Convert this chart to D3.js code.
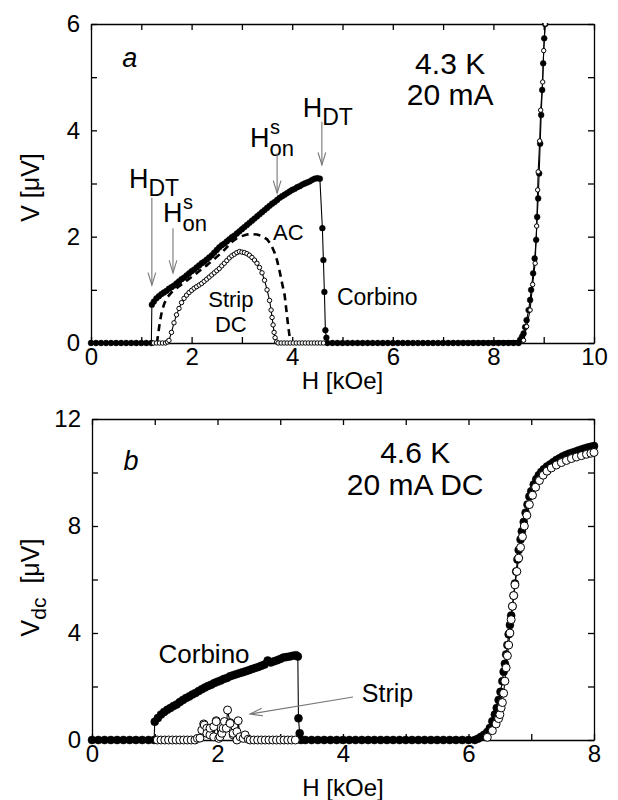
<!DOCTYPE html>
<html>
<head>
<meta charset="utf-8">
<script src="https://cdn.jsdelivr.net/npm/d3@7"></script>
<style>
body { margin: 0; background: #fff; }
text { font-family: "Liberation Sans", Arial, Helvetica, sans-serif; fill: #000; }
</style>
</head>
<body>
<svg id="chart" width="618" height="800"></svg>
<script>
// panel a : 4.3 K, 20 mA  -- [H kOe, V uV]
var aCorbino = [
  [0,0],[0.1,0],[0.2,0],[0.3,0],[0.4,0],[0.5,0],[0.6,0],[0.7,0],[0.8,0],[0.9,0],[1.0,0],[1.1,0],[1.2,0],
  [1.21,0.72],[1.25,0.78],[1.3,0.84],[1.35,0.88],[1.4,0.92],[1.45,0.95],[1.5,0.98],[1.55,1.02],[1.6,1.05],
  [1.65,1.08],[1.7,1.12],[1.75,1.16],[1.8,1.2],[1.85,1.23],[1.9,1.27],[1.95,1.31],[2.0,1.35],[2.05,1.38],
  [2.1,1.42],[2.15,1.46],[2.2,1.5],[2.25,1.53],[2.3,1.57],[2.35,1.61],[2.4,1.65],[2.45,1.7],[2.5,1.75],
  [2.55,1.8],[2.6,1.84],[2.65,1.87],[2.7,1.91],[2.75,1.95],[2.8,1.99],[2.85,2.02],[2.9,2.06],[2.95,2.1],
  [3.0,2.14],[3.05,2.18],[3.1,2.22],[3.15,2.26],[3.2,2.3],[3.25,2.34],[3.3,2.38],[3.35,2.42],[3.4,2.46],
  [3.45,2.5],[3.5,2.54],[3.55,2.58],[3.6,2.62],[3.65,2.65],[3.7,2.69],[3.75,2.73],[3.8,2.76],[3.85,2.79],
  [3.9,2.82],[3.95,2.85],[4.0,2.88],[4.05,2.9],[4.1,2.93],[4.15,2.95],[4.2,2.98],[4.25,3.0],[4.3,3.02],
  [4.35,3.04],[4.4,3.07],[4.45,3.09],[4.5,3.1],[4.55,3.09],
  [4.6,2.16],[4.62,1.56],[4.64,0.96],[4.66,0.24],[4.68,0.1],
  [4.7,0],[4.8,0],[4.9,0],[5.0,0],[5.1,0],[5.2,0],[5.3,0],[5.4,0],[5.5,0],[5.6,0],[5.7,0],[5.8,0],[5.9,0],
  [6.0,0],[6.1,0],[6.2,0],[6.3,0],[6.4,0],[6.5,0],[6.6,0],[6.7,0],[6.8,0],[6.9,0],[7.0,0],[7.1,0],[7.2,0],
  [7.3,0],[7.4,0],[7.5,0],[7.6,0],[7.7,0],[7.8,0],[7.9,0],[8.0,0],[8.1,0],[8.2,0],[8.3,0],[8.4,0],[8.5,0],
  [8.53,0.06],[8.57,0.12],[8.6,0.18],[8.63,0.3],[8.66,0.43],[8.7,0.62],[8.73,0.81],[8.75,1.0],[8.79,1.31],
  [8.82,1.59],[8.85,1.94],[8.87,2.37],[8.89,2.72],[8.91,3.19],[8.93,3.75],[8.95,4.29],[8.97,4.76],
  [8.99,5.26],[9.01,5.73],[9.03,6.0]
];
var aStrip = [
  [1.24,0],[1.3,0],[1.36,0],[1.42,0],[1.48,0],
  [1.52,0.02],[1.55,0.05],[1.6,0.2],[1.65,0.38],[1.7,0.53],[1.75,0.65],[1.8,0.76],[1.85,0.84],[1.9,0.9],
  [1.95,0.95],[2.0,0.99],[2.05,1.03],[2.1,1.06],[2.15,1.09],[2.2,1.12],[2.25,1.16],[2.3,1.2],[2.35,1.24],
  [2.4,1.28],[2.45,1.32],[2.5,1.36],[2.55,1.4],[2.6,1.45],[2.65,1.5],[2.7,1.55],[2.75,1.6],[2.8,1.64],
  [2.85,1.67],[2.9,1.7],[2.95,1.72],[3.0,1.71],[3.05,1.7],[3.1,1.68],[3.15,1.65],[3.2,1.61],[3.25,1.56],
  [3.3,1.5],[3.35,1.42],[3.4,1.32],[3.45,1.18],[3.5,1.0],[3.55,0.8],[3.58,0.62],[3.6,0.48],[3.62,0.34],
  [3.64,0.2],[3.66,0.1],[3.69,0.02],
  [3.72,0],[3.78,0],[3.84,0],[3.9,0],[3.96,0],[4.02,0],[4.08,0],[4.14,0],[4.2,0],[4.26,0],[4.32,0],
  [4.38,0],[4.44,0],[4.5,0],[4.56,0],[4.62,0],
  [8.6,0.05],[8.66,0.31],[8.73,0.62],[8.78,1.1],[8.83,1.5],[8.86,2.2],[8.88,2.88],[8.89,3.22],
  [8.92,3.8],[8.94,4.38],[8.98,4.91],[9.0,5.5],[9.03,6.0]
];
var aAC = [
  [1.31,0],[1.34,0.2],[1.37,0.4],[1.41,0.6],[1.46,0.75],[1.52,0.86],[1.6,0.95],[1.7,1.03],[1.8,1.1],
  [1.9,1.17],[2.0,1.24],[2.1,1.31],[2.2,1.39],[2.3,1.46],[2.4,1.54],[2.5,1.62],[2.6,1.7],[2.7,1.8],
  [2.8,1.9],[2.9,1.97],[3.0,2.01],[3.1,2.04],[3.2,2.05],[3.3,2.04],[3.4,2.01],[3.5,1.95],[3.58,1.85],
  [3.65,1.7],[3.7,1.55],[3.75,1.35],[3.8,1.12],[3.85,0.9],[3.88,0.65],[3.91,0.4],[3.94,0.18],[3.97,0]
];

// panel b : 4.6 K, 20 mA DC
var bCorbino = [
  [0,0],[0.1,0],[0.2,0],[0.3,0],[0.4,0],[0.5,0],[0.6,0],[0.7,0],[0.8,0],[0.9,0],[0.99,0],
  [1.0,0.68],[1.05,0.82],[1.1,0.95],[1.15,1.05],[1.2,1.13],[1.25,1.2],[1.3,1.27],[1.35,1.33],[1.4,1.42],
  [1.45,1.5],[1.5,1.57],[1.55,1.63],[1.6,1.7],[1.65,1.76],[1.7,1.83],[1.75,1.9],[1.8,1.96],[1.85,2.02],
  [1.9,2.07],[1.95,2.13],[2.0,2.18],[2.05,2.22],[2.1,2.28],[2.15,2.32],[2.2,2.38],[2.25,2.42],[2.3,2.46],
  [2.35,2.5],[2.4,2.53],[2.45,2.57],[2.5,2.61],[2.55,2.65],[2.6,2.69],[2.65,2.73],[2.7,2.78],[2.75,2.82],
  [2.8,2.97],[2.85,2.9],[2.9,2.94],[2.95,2.98],[3.0,3.03],[3.05,3.08],[3.1,3.1],[3.15,3.12],[3.2,3.15],
  [3.25,3.17],[3.28,3.12],[3.29,0.81],[3.31,0.25],[3.33,0],
  [3.4,0],[3.5,0],[3.6,0],[3.7,0],[3.8,0],[3.9,0],[4.0,0],[4.1,0],[4.2,0],[4.3,0],[4.4,0],[4.5,0],[4.6,0],
  [4.7,0],[4.8,0],[4.9,0],[5.0,0],[5.1,0],[5.2,0],[5.3,0],[5.4,0],[5.5,0],[5.6,0],[5.7,0],[5.8,0],[5.9,0],
  [6.0,0],[6.1,0],
  [6.15,0.05],[6.2,0.12],[6.25,0.2],[6.3,0.3],[6.34,0.45],[6.38,0.7],[6.42,0.95],[6.45,1.2],[6.48,1.5],
  [6.51,1.8],[6.54,2.2],[6.56,2.55],[6.58,2.85],[6.6,3.2],[6.62,3.55],[6.64,3.95],[6.66,4.3],[6.68,4.65],
  [6.7,5.0],[6.72,5.4],[6.74,5.85],[6.76,6.3],[6.78,6.75],[6.8,7.1],[6.83,7.5],[6.85,7.8],[6.88,8.15],
  [6.91,8.5],[6.94,8.8],[6.97,9.1],[7.0,9.3],[7.04,9.55],[7.08,9.75],[7.12,9.9],[7.16,10.02],[7.2,10.12],
  [7.25,10.22],[7.3,10.3],[7.35,10.38],[7.4,10.47],[7.45,10.53],[7.5,10.6],[7.55,10.65],[7.6,10.7],
  [7.65,10.74],[7.7,10.78],[7.75,10.82],[7.8,10.86],[7.85,10.9],[7.9,10.93],[7.95,10.96],[8.0,10.99]
];
var bStrip = [
  [1.04,0],[1.1,0],[1.16,0],[1.22,0],[1.28,0],[1.34,0],[1.4,0],[1.46,0],[1.52,0],[1.58,0],[1.64,0],
  [1.68,0.06],[1.72,0.07],[1.75,0.37],[1.78,0.6],[1.79,0.56],[1.83,0.44],[1.83,0.25],[1.88,0.19],
  [1.88,0.44],[1.94,0.5],[1.94,0.12],[1.98,0.72],[1.98,0.69],[2.02,0.06],[2.04,0.12],[2.07,0.25],
  [2.09,0.44],[2.11,0.69],[2.14,0.44],[2.16,1.12],[2.2,0.65],[2.2,0.62],[2.25,0.19],[2.25,0.25],
  [2.31,0.31],[2.31,0],[2.33,0.72],[2.36,0.12],[2.41,0.06],[2.44,0.19],[2.49,0.03],
  [2.52,0],[2.58,0],[2.64,0],[2.7,0],[2.76,0],[2.82,0],[2.88,0],[2.94,0],[3.0,0],[3.06,0],[3.12,0],
  [3.18,0],[3.24,0],
  [6.3,0.1],[6.38,0.35],[6.44,0.6],[6.48,0.8],[6.5,0.95],[6.52,1.2],[6.54,1.4],[6.56,1.75],[6.58,2.2],
  [6.6,2.7],[6.62,3.15],[6.64,3.55],[6.66,4.0],[6.68,4.5],[6.7,5.0],[6.72,5.4],[6.74,5.8],[6.77,6.3],
  [6.8,6.8],[6.83,7.2],[6.86,7.6],[6.89,8.0],[6.93,8.4],[6.97,8.8],[7.02,9.15],[7.07,9.45],[7.13,9.7],
  [7.19,9.9],[7.25,10.05],[7.32,10.17],[7.4,10.28],[7.48,10.37],[7.56,10.45],[7.64,10.52],[7.72,10.58],
  [7.8,10.63],[7.88,10.68],[7.95,10.72],[8.0,10.75]
];

var aXTicks = [0,1,2,3,4,5,6,7,8,9,10];
var aXLabels = [0,2,4,6,8,10];
var aYTicks = [0,1,2,3,4,5,6];
var aYLabels = [0,2,4,6];
var bXTicks = [0,1,2,3,4,5,6,7,8];
var bXLabels = [0,2,4,6,8];
var bYTicks = [0,2,4,6,8,10,12];
var bYLabels = [0,4,8,12];

var svg = d3.select("#chart");

function makePanel(left, top, w, h, xMax, yMax, xTicks, xLabels, yTicks, yLabels, id) {
    var g = svg.append("g").attr("transform", `translate(${left},${top})`);
    var x = d3.scaleLinear().domain([0, xMax]).range([0, w]);
    var y = d3.scaleLinear().domain([0, yMax]).range([h, 0]);

    var fmtX = d => xLabels.includes(d) ? d : "";
    var fmtY = d => yLabels.includes(d) ? d : "";

    g.append("g").attr("class", "axis").attr("transform", `translate(0,${h})`)
        .call(d3.axisBottom(x).tickValues(xTicks).tickSizeInner(-6).tickSizeOuter(0).tickPadding(5).tickFormat(fmtX));
    g.append("g").attr("class", "axis")
        .call(d3.axisTop(x).tickValues(xTicks).tickSizeInner(-6).tickSizeOuter(0).tickFormat(""));
    g.append("g").attr("class", "axis")
        .call(d3.axisLeft(y).tickValues(yTicks).tickSizeInner(-6).tickSizeOuter(0).tickPadding(11).tickFormat(fmtY));
    g.append("g").attr("class", "axis").attr("transform", `translate(${w},0)`)
        .call(d3.axisRight(y).tickValues(yTicks).tickSizeInner(-6).tickSizeOuter(0).tickFormat(""));

    g.selectAll(".axis path, .axis line").attr("stroke", "#000").attr("stroke-width", 1.3);
    g.selectAll(".axis text").attr("font-size", 24).attr("font-family", null);

    g.append("clipPath").attr("id", id).append("rect")
        .attr("x", -5).attr("y", -1).attr("width", w + 10).attr("height", h + 6);
    var plot = g.append("g").attr("clip-path", `url(#${id})`);
    return {g: g, plot: plot, x: x, y: y, w: w, h: h};
}

function drawSeries(p, data, r, fill, sw) {
    var line = d3.line().x(d => p.x(d[0])).y(d => p.y(d[1]));
    p.plot.append("path").datum(data).attr("d", line)
        .attr("fill", "none").attr("stroke", "#000").attr("stroke-width", 1.1);
    p.plot.append("g").selectAll("circle").data(data).join("circle")
        .attr("cx", d => p.x(d[0])).attr("cy", d => p.y(d[1])).attr("r", r)
        .attr("fill", fill).attr("stroke", "#000").attr("stroke-width", sw);
}

function label(p, hx, vy, str, size, anchor, italic) {
    return p.g.append("text").attr("x", p.x(hx)).attr("y", p.y(vy))
        .attr("font-size", size).attr("text-anchor", anchor || "start")
        .attr("font-style", italic ? "italic" : null).text(str);
}

// H with subscript (and optional superscript stacked above it)
function hLabel(p, hx, vy, sub, sup) {
    var x = p.x(hx), y = p.y(vy);
    p.g.append("text").attr("x", x).attr("y", y).attr("font-size", 27).text("H");
    if (sup) {
        p.g.append("text").attr("x", x + 20).attr("y", y - 13).attr("font-size", 20).text(sup);
        p.g.append("text").attr("x", x + 19.5).attr("y", y + 9).attr("font-size", 22).text(sub);
    } else {
        p.g.append("text").attr("x", x + 19.5).attr("y", y + 8).attr("font-size", 23).text(sub);
    }
}

function arrow(p, h0, v0, h1, v1) {
    var x0 = p.x(h0), y0 = p.y(v0), x1 = p.x(h1), y1 = p.y(v1);
    var a = Math.atan2(y1 - y0, x1 - x0), len = 13, half = 0.3;
    var g = p.g.append("g").attr("stroke", "#777").attr("stroke-width", 1.1).attr("fill", "none");
    g.append("line").attr("x1", x0).attr("y1", y0).attr("x2", x1).attr("y2", y1);
    g.append("path").attr("d",
        `M${x1 - len * Math.cos(a - half)},${y1 - len * Math.sin(a - half)} L${x1},${y1} L${x1 - len * Math.cos(a + half)},${y1 - len * Math.sin(a + half)}`);
}

// ---------- panel a ----------
var pa = makePanel(91, 24, 503, 319, 10, 6, aXTicks, aXLabels, aYTicks, aYLabels, "clipA");

pa.plot.append("path").datum(aAC)
    .attr("d", d3.line().x(d => pa.x(d[0])).y(d => pa.y(d[1])))
    .attr("fill", "none").attr("stroke", "#000").attr("stroke-width", 2.6)
    .attr("stroke-dasharray", "7,5");
drawSeries(pa, aCorbino, 2.9, "#000", 0.5);
drawSeries(pa, aStrip, 2.2, "#fff", 1);

label(pa, 0.62, 5.19, "a", 27, "start", true);
label(pa, 7.14, 5.06, "4.3 K", 30, "middle");
label(pa, 7.14, 4.48, "20 mA", 30, "middle");
hLabel(pa, 0.755, 2.92, "DT");
arrow(pa, 1.21, 2.73, 1.21, 1.09);
hLabel(pa, 1.43, 2.28, "on", "s");
arrow(pa, 1.63, 2.16, 1.63, 1.32);
hLabel(pa, 3.16, 3.69, "on", "s");
arrow(pa, 3.7, 3.57, 3.7, 2.82);
hLabel(pa, 4.21, 4.25, "DT");
arrow(pa, 4.59, 4.16, 4.59, 3.35);
label(pa, 3.62, 1.94, "AC", 22);
label(pa, 2.78, 0.68, "Strip", 22, "middle");
label(pa, 2.78, 0.21, "DC", 22, "middle");
label(pa, 4.89, 0.71, "Corbino", 23);

pa.g.append("text").attr("x", pa.w / 2).attr("y", pa.h + 46)
    .attr("font-size", 24).attr("text-anchor", "middle").text("H [kOe]");
pa.g.append("text").attr("transform", `translate(-52,${pa.h / 2 + 4}) rotate(-90)`)
    .attr("font-size", 25).attr("text-anchor", "middle").text("V [μV]");

// ---------- panel b ----------
var pb = makePanel(92, 419, 502, 321, 8, 12, bXTicks, bXLabels, bYTicks, bYLabels, "clipB");

drawSeries(pb, bCorbino, 4, "#000", 0.5);
drawSeries(pb, bStrip, 4, "#fff", 1);

label(pb, 0.5, 10.1, "b", 27, "start", true);
label(pb, 5.15, 10.36, "4.6 K", 30, "middle");
label(pb, 5.15, 9.16, "20 mA DC", 30, "middle");
label(pb, 1.06, 2.88, "Corbino", 26);
label(pb, 4.3, 1.42, "Strip", 25);
arrow(pb, 4.16, 1.61, 2.52, 0.97);

pb.g.append("text").attr("x", pb.w / 2).attr("y", pb.h + 56)
    .attr("font-size", 24).attr("text-anchor", "middle").text("H [kOe]");
var yl = pb.g.append("text").attr("transform", `translate(-53,${pb.h / 2 + 8}) rotate(-90)`)
    .attr("font-size", 25).attr("text-anchor", "middle");
yl.append("tspan").text("V");
yl.append("tspan").attr("dy", 7).attr("font-size", 21).text("dc");
yl.append("tspan").attr("dy", -7).text("  [μV]").attr("xml:space", "preserve");
</script>
</body>
</html>
